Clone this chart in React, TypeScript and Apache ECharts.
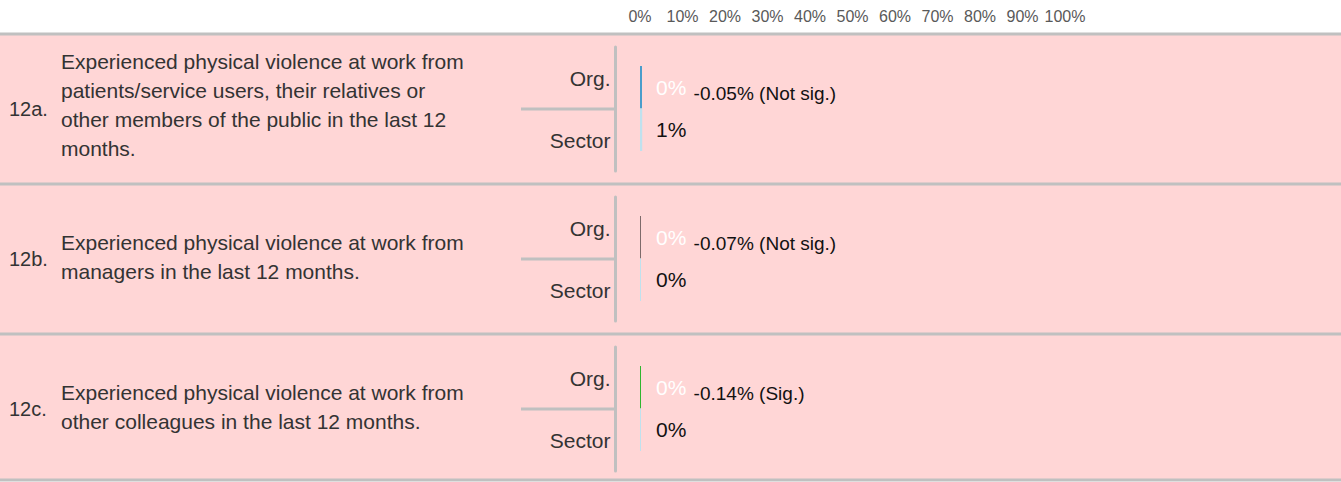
import React, { useEffect, useRef } from "react";
import * as echarts from "echarts";

const questionIds = ["12a.", "12b.", "12c."];
const questions = [
  "Experienced physical violence at work from\npatients/service users, their relatives or\nother members of the public in the last 12\nmonths.",
  "Experienced physical violence at work from\nmanagers in the last 12 months.",
  "Experienced physical violence at work from\nother colleagues in the last 12 months.",
];
const groupLabels = ["Org.", "Sector"];
const orgValues = [0.47, 0.13, 0.06];
const sectorValues = [0.52, 0.2, 0.2];
const differences = [-0.05, -0.07, -0.14];
const significance = ["Not sig.", "Not sig.", "Sig."];
const orgColors = ["#4a9dcb", "#7d6a6a", "#2fb52f"];
const sectorColor = "#bfe1ee";
const axisMin = 0;
const axisMax = 100;
const axisStep = 10;

const FONT = "Liberation Sans";
const W = 1341;
const H = 482;
const ROW_TOPS = [34, 184, 334];
const ROW_HEIGHTS = [150, 150, 146];
const PINK = "#ffd6d6";
const GREY = "#c0c0c0";

export default function App() {
  const ref = useRef<HTMLDivElement>(null);
  useEffect(() => {
    document.body.style.margin = "0";
    const chart = echarts.init(ref.current!, null, { renderer: "svg" });

    const grids: any[] = [];
    const xAxes: any[] = [];
    const yAxes: any[] = [];
    const series: any[] = [];
    const graphics: any[] = [];

    ROW_TOPS.forEach((top, k) => {
      // label grid (Org./Sector axis)
      grids.push({ left: 615.5, top: top + 13, width: 10, height: 124 });
      xAxes.push({ gridIndex: 2 * k, type: "value", min: 0, max: 1, show: false });
      yAxes.push({
        gridIndex: 2 * k,
        type: "category",
        data: groupLabels,
        inverse: true,
        z: 3,
        axisLine: { show: true, onZero: false, lineStyle: { color: GREY, width: 3 } },
        axisTick: { show: false },
        axisLabel: { fontFamily: FONT, fontSize: 21, color: "#333333", margin: 5 },
      });
      // bar grid
      grids.push({ left: 640, right: W - 1065, top: top + 32, height: 85 });
      xAxes.push({
        gridIndex: 2 * k + 1,
        type: "value",
        min: axisMin,
        max: axisMax,
        interval: axisStep,
        position: "top",
        show: k === 0,
        z: 3,
        axisLine: { show: false },
        axisTick: { show: false },
        splitLine: { show: false },
        axisLabel: {
          formatter: "{value}%",
          fontFamily: FONT,
          fontSize: 16,
          color: "#595959",
          margin: 42,
        },
      });
      yAxes.push({
        gridIndex: 2 * k + 1,
        type: "category",
        data: groupLabels,
        inverse: true,
        show: false,
      });
      series.push({
        type: "bar",
        xAxisIndex: 2 * k + 1,
        yAxisIndex: 2 * k + 1,
        barWidth: "100%",
        barMinHeight: 1,
        data: [
          {
            value: orgValues[k],
            itemStyle: { color: orgColors[k] },
            label: {
              show: true,
              position: [16, "50%"],
              align: "left",
              verticalAlign: "middle",
              formatter: `{v|${Math.round(orgValues[k])}%}{d| ${differences[k].toFixed(2)}% (${significance[k]})}`,
              rich: {
                v: { fontFamily: FONT, fontSize: 21, color: "#ffffff", padding: [0, 2, 0, 0] },
                d: { fontFamily: FONT, fontSize: 19, color: "#111111", padding: [12, 0, 0, 0] },
              },
            },
          },
          {
            value: sectorValues[k],
            itemStyle: { color: sectorColor },
            label: {
              show: true,
              position: [16, "50%"],
              align: "left",
              verticalAlign: "middle",
              formatter: `${Math.round(sectorValues[k])}%`,
              fontFamily: FONT,
              fontSize: 21,
              color: "#111111",
            },
          },
        ],
      });

      // decorations
      const lines = questions[k].split("\n").length;
      graphics.push({
        type: "rect",
        z: -10,
        shape: { x: 0, y: top, width: W, height: ROW_HEIGHTS[k] },
        style: { fill: PINK },
      });
      graphics.push({
        type: "line",
        z: 1,
        shape: { x1: 521, y1: top + 75, x2: 615, y2: top + 75 },
        style: { stroke: GREY, lineWidth: 3 },
      });
      graphics.push({
        type: "text",
        z: 10,
        x: 9,
        y: top + 75,
        style: {
          text: questionIds[k],
          fontFamily: FONT,
          fontSize: 20,
          fill: "#333333",
          verticalAlign: "middle",
        },
      });
      graphics.push({
        type: "text",
        z: 10,
        x: 61,
        y: top + 73 - (lines - 2),
        style: {
          text: questions[k],
          fontFamily: FONT,
          fontSize: 21,
          lineHeight: 29,
          fill: "#333333",
          verticalAlign: "middle",
        },
      });
    });
    // separators
    const sepYs = [...ROW_TOPS, ROW_TOPS[2] + ROW_HEIGHTS[2]];
    sepYs.forEach((y) => {
      graphics.push({
        type: "line",
        z: 1,
        shape: { x1: 0, y1: y, x2: W, y2: y },
        style: { stroke: GREY, lineWidth: 3 },
      });
    });

    chart.setOption({
      animation: false,
      backgroundColor: "#ffffff",
      grid: grids,
      xAxis: xAxes,
      yAxis: yAxes,
      series,
      graphic: { elements: graphics },
    });
    return () => chart.dispose();
  }, []);
  return <div ref={ref} style={{ width: W, height: H }} />;
}
